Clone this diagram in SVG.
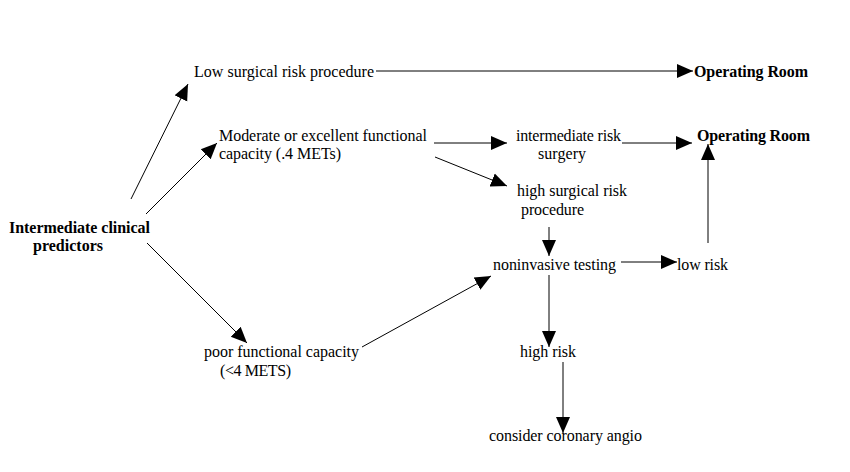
<svg xmlns="http://www.w3.org/2000/svg" width="850" height="472" viewBox="0 0 850 472">
<style>
.t text{font-size:16px;fill:#000}
.b{font-weight:bold}
.c line{stroke:#000;stroke-width:1}
</style>
<defs>
<marker id="ah" markerUnits="userSpaceOnUse" markerWidth="17" markerHeight="16" viewBox="0 0 17 16" refX="16" refY="8" orient="auto">
<path d="M0,1 L16,8 L0,15 Z" fill="#000"/>
</marker>
</defs>
<rect width="850" height="472" fill="#fff"/>
<g class="c">
<line x1="131" y1="199" x2="188" y2="84" marker-end="url(#ah)"/>
<line x1="146" y1="214" x2="217" y2="143" marker-end="url(#ah)"/>
<line x1="147" y1="243" x2="247" y2="343" marker-end="url(#ah)"/>
<line x1="376" y1="71" x2="693" y2="71" marker-end="url(#ah)"/>
<line x1="434" y1="143" x2="507" y2="143" marker-end="url(#ah)"/>
<line x1="435" y1="157" x2="507" y2="186" marker-end="url(#ah)"/>
<line x1="622" y1="143" x2="692" y2="143" marker-end="url(#ah)"/>
<line x1="549" y1="227" x2="549" y2="256" marker-end="url(#ah)"/>
<line x1="362" y1="347" x2="491" y2="276" marker-end="url(#ah)"/>
<line x1="621" y1="262" x2="677" y2="262" marker-end="url(#ah)"/>
<line x1="708" y1="243" x2="708" y2="144" marker-end="url(#ah)"/>
<line x1="549" y1="275" x2="549" y2="347" marker-end="url(#ah)"/>
<line x1="563" y1="362" x2="563" y2="433" marker-end="url(#ah)"/>
</g>
<g class="t" font-family="'Liberation Serif', 'Times New Roman', serif">
<g id="low-surgical"><text x="194" y="77" textLength="180" lengthAdjust="spacing">Low surgical risk procedure</text></g>
<g id="or1"><text class="b" x="694" y="77" textLength="114" lengthAdjust="spacing">Operating Room</text></g>
<g id="moderate"><text x="219" y="141" textLength="208" lengthAdjust="spacing">Moderate or excellent functional</text><text x="219" y="159" textLength="122" lengthAdjust="spacing">capacity (.4 METs)</text></g>
<g id="intermediate-risk"><text x="516" y="141" textLength="105" lengthAdjust="spacing">intermediate risk</text><text x="538" y="159" textLength="48" lengthAdjust="spacing">surgery</text></g>
<g id="or2"><text class="b" x="697" y="141" textLength="113" lengthAdjust="spacing">Operating Room</text></g>
<g id="high-surgical"><text x="517" y="196" textLength="110" lengthAdjust="spacing">high surgical risk</text><text x="521" y="215" textLength="63" lengthAdjust="spacing">procedure</text></g>
<g id="noninvasive"><text x="493" y="270" textLength="123" lengthAdjust="spacing">noninvasive testing</text></g>
<g id="low-risk"><text x="677" y="270" textLength="51" lengthAdjust="spacing">low risk</text></g>
<g id="high-risk"><text x="520" y="357" textLength="56" lengthAdjust="spacing">high risk</text></g>
<g id="angio"><text x="489" y="441" textLength="153" lengthAdjust="spacing">consider coronary angio</text></g>
<g id="predictors"><text class="b" x="9" y="233" textLength="141" lengthAdjust="spacing">Intermediate clinical</text><text class="b" x="33" y="251" textLength="70" lengthAdjust="spacing">predictors</text></g>
<g id="poor"><text x="204" y="357" textLength="155" lengthAdjust="spacing">poor functional capacity</text><text x="220" y="376" textLength="71" lengthAdjust="spacing">(&lt;4 METS)</text></g>
</g>
</svg>
